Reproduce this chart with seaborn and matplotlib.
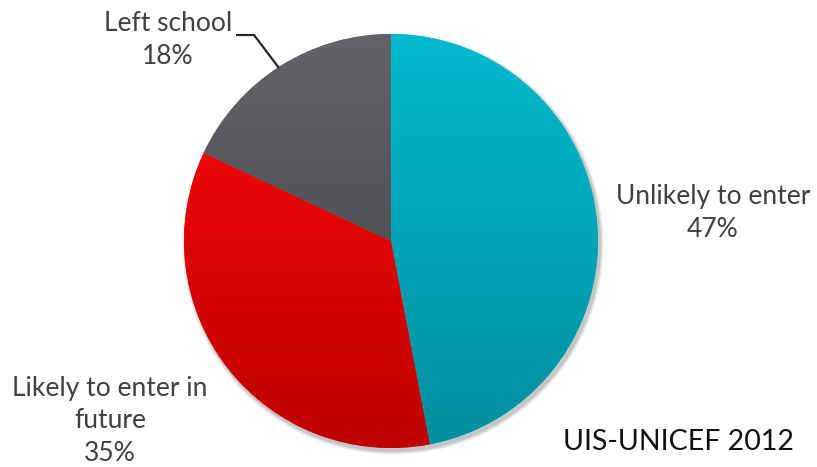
import numpy as np
import matplotlib
matplotlib.use("Agg")
import matplotlib.pyplot as plt
from matplotlib.colors import LinearSegmentedColormap
import seaborn as sns

categories = ["Unlikely to enter", "Likely to enter in\nfuture", "Left school"]
shares = [47, 35, 18]
top_colors = ["#00BACF", "#FF0B0B", "#636469"]
bottom_colors = ["#008E9E", "#BD0000", "#3F4043"]
source = "UIS-UNICEF 2012"

sns.set_theme(style="white")
plt.rcParams["font.family"] = ["Lato", "DejaVu Sans"]

W, H = 817, 467
fig = plt.figure(figsize=(W / 100, H / 100), dpi=100)
ax = fig.add_axes([0, 0, 1, 1])

cx, cy, r = 391, H - 241, 207
wedges, _ = ax.pie(shares, startangle=90, counterclock=False, center=(cx, cy),
                   radius=r, colors=top_colors, wedgeprops=dict(linewidth=0))

# subtle shadow
for k, a in [(6, 0.06), (4, 0.08), (2, 0.1)]:
    ax.add_patch(plt.Circle((cx + 2, cy - 3), r + k * 0.6, color="#000000",
                            alpha=a, zorder=0.5, lw=0))

grad = np.linspace(0, 1, 256).reshape(-1, 1)
for w, tc, bc in zip(wedges, top_colors, bottom_colors):
    w.set_zorder(1)
    cmap = LinearSegmentedColormap.from_list("g", [tc, bc])
    im = ax.imshow(grad, cmap=cmap, extent=(cx - r, cx + r, cy - r, cy + r),
                   origin="upper", aspect="auto", zorder=2, interpolation="bilinear")
    im.set_clip_path(w)
ax.add_patch(plt.Circle((cx, cy), r, color="white", zorder=0.9, lw=0))

txt = "#404040"
fs = 19
ls = 1.38
ax.text(713, H - 213, f"{categories[0]}\n{shares[0]}%", ha="center", va="center",
        fontsize=fs, color=txt, linespacing=ls)
ax.text(110, H - 421, f"{categories[1]}\n{shares[1]}%", ha="center", va="center",
        fontsize=fs, color=txt, linespacing=ls)
ax.text(168, H - 40, f"{categories[2]}\n{shares[2]}%", ha="center", va="center",
        fontsize=fs, color=txt, linespacing=ls)
ax.plot([236, 254, 279], [H - 35, H - 35, H - 68], color="#262626", lw=1.6, zorder=3,
        solid_capstyle="butt")

ax.text(679, H - 442, source, ha="center", va="center", fontsize=20.5, color="#111111")

ax.set_xlim(0, W)
ax.set_ylim(0, H)
ax.set_aspect("auto")
ax.axis("off")
fig.savefig("out.png", dpi=100, facecolor="white")
